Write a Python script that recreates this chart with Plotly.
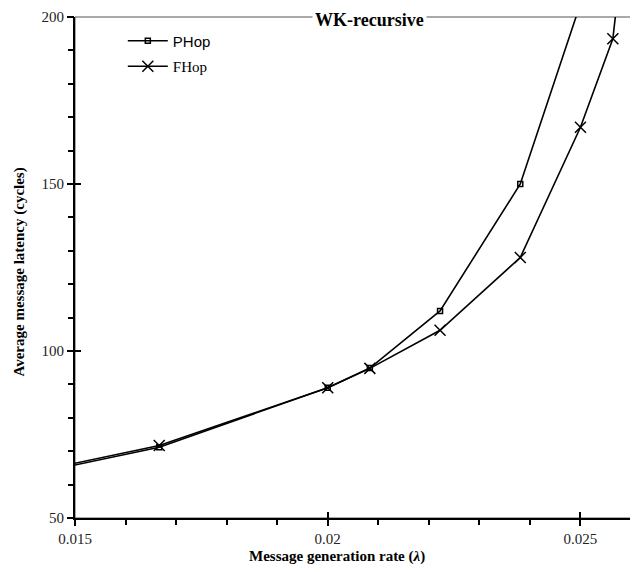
import plotly.graph_objects as go

# Data
rate = [1/70, 1/60, 1/50, 1/48, 1/45, 1/42, 1/40]
phop = [63.6, 71.2, 89.0, 94.9, 112.0, 150.0, 204.0]

rate_f = [1/70, 1/60, 1/50, 1/48, 1/45, 1/42, 1/40, 1/39, 0.0259]
fhop = [64.1, 71.7, 89.0, 94.8, 106.2, 128.0, 167.0, 193.5, 228.0]

x_range = [0.015, 0.026]
y_range = [50, 200]

serif = "Liberation Serif, Times New Roman, serif"
sans = "Liberation Sans, Arial, sans-serif"

fig = go.Figure()
fig.add_trace(go.Scatter(
    x=rate, y=phop, mode="lines+markers",
    name='<span style="font-family:Liberation Sans, Arial, sans-serif">PHop</span>',
    legendgroup="a",
    line=dict(color="black", width=1.6),
    marker=dict(symbol="square-open", size=5, color="black", line=dict(width=1.5)),
))
fig.add_trace(go.Scatter(
    x=rate_f, y=fhop, mode="lines+markers",
    name='<span style="font-family:Liberation Serif, Times New Roman, serif">FHop</span>',
    legendgroup="b",
    line=dict(color="black", width=1.6),
    marker=dict(symbol="x-thin", size=11, color="black", line=dict(width=1.5, color="black")),
))
# empty traces to activate overlay axes (inside tick halves, minor ticks)
fig.add_trace(go.Scatter(x=[], y=[], xaxis="x2", yaxis="y2", showlegend=False, hoverinfo="skip"))
fig.add_trace(go.Scatter(x=[], y=[], xaxis="x3", yaxis="y3", showlegend=False, hoverinfo="skip"))

tickfont = dict(family=serif, size=15, color="#222")

fig.update_layout(
    width=630, height=564,
    margin=dict(l=67, r=7, t=9, b=54, autoexpand=False),
    paper_bgcolor="white", plot_bgcolor="white",
    showlegend=True,
    legend=dict(
        x=0.086, y=0.985, xanchor="left", yanchor="top",
        bgcolor="rgba(0,0,0,0)", font=dict(size=15, color="black", family=sans),
        tracegroupgap=3, traceorder="grouped", itemwidth=40,
    ),
    xaxis=dict(
        range=x_range, tick0=0.015, dtick=0.005, automargin=False,
        showgrid=False, zeroline=False,
        showline=True, linecolor="black", linewidth=2,
        ticks="outside", ticklen=6, tickwidth=1.5, tickcolor="black",
        tickfont=tickfont, ticklabeloverflow="allow",
    ),
    yaxis=dict(
        range=y_range, tick0=50, dtick=50, automargin=False,
        showgrid=False, zeroline=False,
        showline=True, linecolor="black", linewidth=2,
        ticks="outside", ticklen=6, tickwidth=1.5, tickcolor="black",
        tickfont=tickfont, ticklabeloverflow="allow",
    ),
    xaxis2=dict(
        range=x_range, tick0=0.015, dtick=0.005, overlaying="x", anchor="y2", side="bottom", automargin=False,
        showgrid=False, zeroline=False, showline=False,
        ticks="inside", ticklen=6, tickwidth=1.5, tickcolor="black", showticklabels=False,
    ),
    yaxis2=dict(
        range=y_range, tick0=50, dtick=50, overlaying="y", anchor="x2", side="left", automargin=False,
        showgrid=False, zeroline=False, showline=False,
        ticks="inside", ticklen=6, tickwidth=1.5, tickcolor="black", showticklabels=False,
    ),
    xaxis3=dict(
        range=x_range, tick0=0.015, dtick=0.001, overlaying="x", anchor="y3", side="bottom", automargin=False,
        showgrid=False, zeroline=False, showline=False,
        ticks="outside", ticklen=6, tickwidth=1.5, tickcolor="black", showticklabels=False,
    ),
    yaxis3=dict(
        range=y_range, tick0=50, dtick=10, overlaying="y", anchor="x3", side="left", automargin=False,
        showgrid=False, zeroline=False, showline=False,
        ticks="outside", ticklen=6, tickwidth=1.5, tickcolor="black", showticklabels=False,
    ),
    shapes=[dict(type="rect", xref="paper", yref="paper", x0=0, y0=0, x1=1, y1=1,
                 line=dict(color="#555", width=1), layer="below")],
    annotations=[
        dict(text="<b>WK-recursive</b>", xref="paper", yref="paper", x=0.53, y=1,
             xanchor="center", yanchor="middle", yshift=-3, showarrow=False,
             font=dict(family=serif, size=18, color="black"),
             bgcolor="white", borderpad=2),
        dict(text="<b>Message generation rate (<i>λ</i>)</b>", xref="paper", yref="paper",
             x=0.471, y=-0.0778, xanchor="center", yanchor="middle", showarrow=False,
             font=dict(family=serif, size=15, color="black")),
        dict(text="<b>Average message latency (cycles)</b>", xref="paper", yref="paper",
             x=-0.1007, y=0.49, xanchor="center", yanchor="middle", showarrow=False, textangle=-90,
             font=dict(family=serif, size=15, color="black")),
    ],
)

fig.write_html("out.html")
